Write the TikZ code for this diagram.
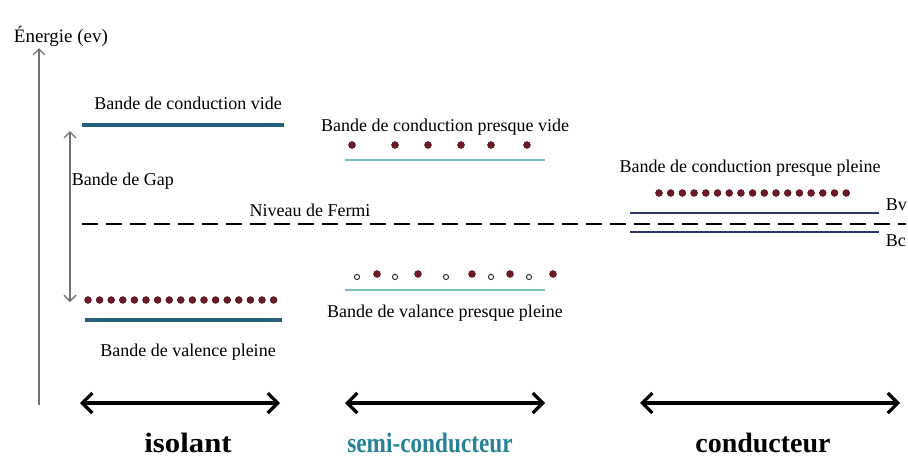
\documentclass[tikz,border=0pt]{standalone}
\usepackage{fontspec}
\setmainfont{Liberation Serif}
\usetikzlibrary{arrows.meta}

\definecolor{bandeIso}{RGB}{35,95,125}
\definecolor{bandeSemi}{RGB}{125,190,195}
\definecolor{bandeCond}{RGB}{45,55,110}
\definecolor{electron}{RGB}{110,25,40}
\definecolor{semiTxt}{RGB}{40,130,150}

\tikzset{
  lbl/.style={inner sep=0.75pt,font=\fontsize{9}{10}\selectfont},
  titre/.style={inner sep=0.75pt,font=\fontsize{14}{16}\selectfont\bfseries},
  plein/.style={fill=electron,draw=electron!70!black,line width=0.3pt},
  trou/.style={draw=black!80,line width=0.5pt,fill=white},
  domaine/.style={line width=2pt,{Straight Barb[length=5pt,width=10pt,line width=1.6pt]}-{Straight Barb[length=5pt,width=10pt,line width=1.6pt]}},
  fleche/.style={draw=black!55,line width=0.7pt}
}

\begin{document}
\begin{tikzpicture}[x=0.5pt,y=0.5pt,yscale=-1]
\useasboundingbox (0,0) rectangle (908,461);

\draw (12,36) node[anchor=west][lbl,font=\fontsize{9.5}{11}\selectfont] (energie) {Énergie (ev)};
\coordinate (axeBas) at (39,405);
\coordinate (axeHaut) at (39,48);
\draw[fleche,-{Straight Barb[length=3pt,width=6pt]}] (axeBas) -- (axeHaut);

% isolant
\draw[bandeIso,line width=1.6pt] (82,125) -- (284,125);
\draw (188,103) node[lbl] (cvide) {Bande de conduction vide};
\coordinate (gapHaut) at (70,131);
\coordinate (gapBas) at (70,302);
\draw[fleche,{Straight Barb[length=3pt,width=6pt]}-{Straight Barb[length=3pt,width=6pt]}] (gapBas) -- (gapHaut);
\draw (70,181) node[anchor=west][lbl] (gap) {Bande de Gap};
\foreach \i in {0,...,16}
  \fill[plein] (88+11.6*\i,300) circle (3.4);
\draw[bandeIso,line width=1.8pt] (85,320) -- (282,320);
\draw (188,352) node[lbl] (vpleine) {Bande de valence pleine};

% niveau de Fermi
\draw[dash pattern=on 8pt off 4pt,line width=1pt] (82,224) -- (906,224);
\draw (310,219) node[anchor=south][lbl] (fermi) {Niveau de Fermi};

% semi-conducteur
\draw (445,127) node[lbl] (cpvide) {Bande de conduction presque vide};
\foreach \x in {352,395,428,461,491,527}
  \fill[plein] (\x,145) circle (3.4);
\draw[bandeSemi,line width=1.1pt] (345,160) -- (545,160);
\foreach \x in {377,418,472,510,553}
  \fill[plein] (\x,274) circle (3.4);
\foreach \x in {357,395,446,491,529}
  \draw[trou] (\x,277) circle (2.6);
\draw[bandeSemi,line width=1.1pt] (345,290) -- (545,290);
\draw (445,313) node[lbl] (vppleine) {Bande de valance presque pleine};

% conducteur
\draw (750,168) node[lbl] (cppleine) {Bande de conduction presque pleine};
\foreach \i in {0,...,16}
  \fill[plein] (659+11.7*\i,193) circle (3.4);
\draw[bandeCond,line width=1.1pt] (630,213) -- (879,213);
\draw[bandeCond,line width=1.1pt] (630,232) -- (879,232);
\draw (884,205) node[anchor=west][lbl] (bv) {Bv};
\draw (884,241) node[anchor=west][lbl] (bc) {Bc};

% domaines
\coordinate (isoG) at (80,403);
\coordinate (isoD) at (280,403);
\coordinate (semiG) at (345,403);
\coordinate (semiD) at (545,403);
\coordinate (condG) at (640,403);
\coordinate (condD) at (900,403);
\draw[domaine] (isoG) -- (isoD);
\draw[domaine] (semiG) -- (semiD);
\draw[domaine] (condG) -- (condD);
\draw (188,443) node[titre] (isolant) {\scalebox{1.1}[1]{isolant}};
\draw (430,443) node[titre,text=semiTxt] (semi) {\scalebox{0.83}[1]{semi-conducteur}};
\draw (763,443) node[titre] (conducteur) {conducteur};
\end{tikzpicture}
\end{document}
